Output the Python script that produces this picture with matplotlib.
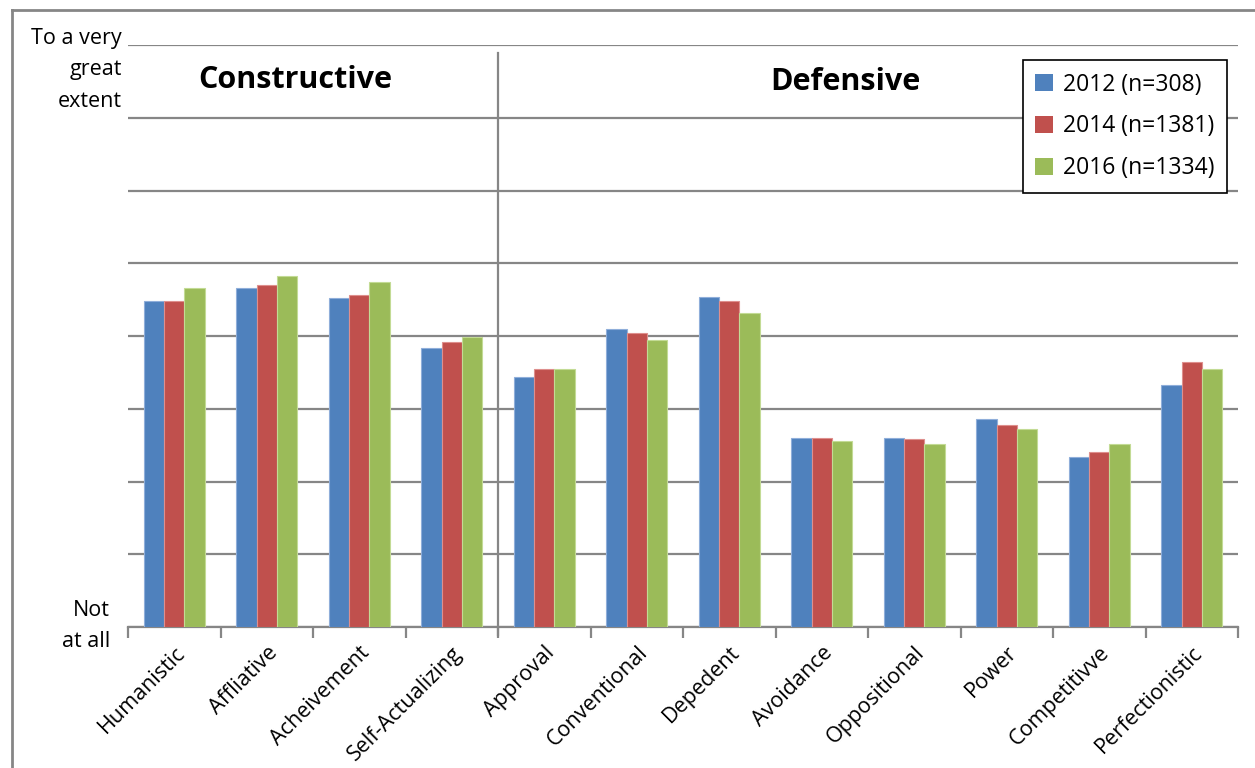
import matplotlib.pyplot as plt
import numpy as np
from matplotlib.lines import Line2D
from matplotlib.patches import Patch

# culture styles and mean scores (1 = not at all, 5 = to a very great extent)
styles = ['Humanistic', 'Affliative', 'Acheivement', 'Self-Actualizing',
          'Approval', 'Conventional', 'Depedent', 'Avoidance',
          'Oppositional', 'Power', 'Competitivve', 'Perfectionistic']
scores_2012 = [3.24, 3.33, 3.26, 2.92, 2.72, 3.05, 3.27, 2.30, 2.30, 2.43, 2.17, 2.66]
scores_2014 = [3.24, 3.35, 3.28, 2.96, 2.77, 3.02, 3.24, 2.30, 2.29, 2.39, 2.20, 2.82]
scores_2016 = [3.33, 3.41, 3.37, 2.99, 2.77, 2.97, 3.16, 2.28, 2.26, 2.36, 2.26, 2.77]
series_labels = ['2012 (n=308)', '2014 (n=1381)', '2016 (n=1334)']
colors = ['#4F81BD', '#C0504D', '#9BBB59']
edges = ['#8FAEDA', '#DE8F8D', '#C3DB95']

plt.rcParams['font.family'] = ['Open Sans', 'DejaVu Sans']

W, H = 1255, 768
fig = plt.figure(figsize=(W / 100, H / 100), dpi=100)
ax = fig.add_axes([128 / W, 1 - 627 / H, (1238 - 128) / W, (627 - 45) / H])

x = np.arange(len(styles))
bw = 0.22
for i, vals in enumerate([scores_2012, scores_2014, scores_2016]):
    ax.bar(x + (i - 1) * bw, np.array(vals) - 1, bottom=1, width=bw,
           color=colors[i], edgecolor=edges[i], linewidth=0.8, zorder=3,
           label=series_labels[i])

grid_col = '#868686'
ax.set_ylim(1, 5)
ax.set_yticks(np.arange(1, 5.01, 0.5))
ax.yaxis.grid(True, color=grid_col, linewidth=1.6, zorder=0)
ax.tick_params(axis='y', length=0, labelleft=False)

ax.set_xlim(-0.5, 11.5)
ax.set_xticks(x)
ax.set_xticklabels(styles, rotation=45, ha='right', rotation_mode='anchor', fontsize=15.5)
ax.tick_params(axis='x', which='major', length=0, pad=11)
ax.set_xticks(np.arange(-0.5, 12, 1), minor=True)
ax.tick_params(axis='x', which='minor', length=8, width=1.6, color=grid_col)

for s in ['top', 'right', 'left']:
    ax.spines[s].set_visible(False)
ax.spines['bottom'].set_color(grid_col)
ax.spines['bottom'].set_linewidth(1.6)

# separator between constructive and defensive styles
ax.plot([3.5, 3.5], [1 - 8 / 145.5, 1 + (627 - 53) / 145.5], color=grid_col,
        linewidth=1.6, clip_on=False, zorder=2)

ax.text(295 / W, 1 - 80 / H, 'Constructive', transform=fig.transFigure,
        ha='center', va='center', fontsize=22, fontweight='bold')
ax.text(845 / W, 1 - 82 / H, 'Defensive', transform=fig.transFigure,
        ha='center', va='center', fontsize=22, fontweight='bold')

fig.text(122 / W, 1 - 70 / H, 'To a very\ngreat\nextent', ha='right', va='center',
         fontsize=15.5, linespacing=1.68)
fig.text(110 / W, 1 - 626 / H, 'Not\nat all', ha='right', va='center',
         fontsize=15.5, linespacing=1.68)

handles = [Patch(facecolor=c) for c in colors]
leg = fig.legend(handles, series_labels, loc='upper right',
                 bbox_to_anchor=(1227 / W, 1 - 60 / H), fontsize=16.5,
                 handlelength=0.75, handleheight=0.75, handletextpad=0.45,
                 labelspacing=0.78, borderpad=0.55, borderaxespad=0,
                 fancybox=False, framealpha=1)
leg.get_frame().set_edgecolor('black')
leg.get_frame().set_linewidth(1.2)

# outer chart border
fig.add_artist(Line2D([12 / W, 12 / W], [0, 1 - 10 / H], color=grid_col, linewidth=2))
fig.add_artist(Line2D([12 / W, 1], [1 - 10 / H, 1 - 10 / H], color=grid_col, linewidth=2))

fig.savefig('out.png', dpi=100)
